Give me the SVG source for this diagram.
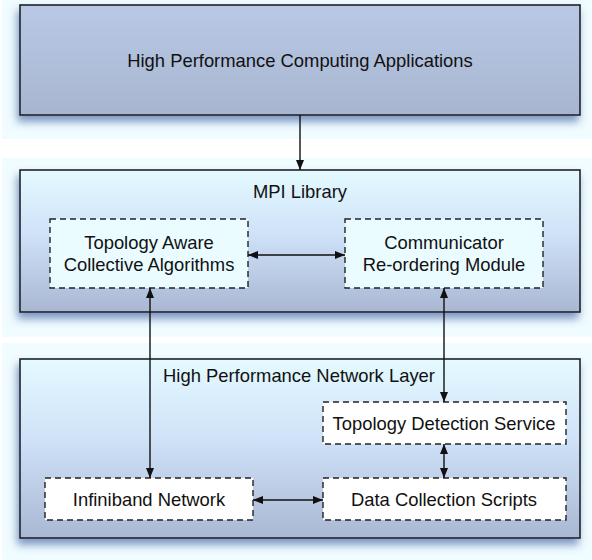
<svg xmlns="http://www.w3.org/2000/svg" width="592" height="560" viewBox="0 0 592 560">
<defs>
<linearGradient id="gTop" x1="0" y1="0" x2="0" y2="1"><stop offset="0" stop-color="#b9c9e5"/><stop offset="1" stop-color="#a7b5d0"/></linearGradient>
<linearGradient id="gLayer" x1="0" y1="0" x2="0" y2="1"><stop offset="0" stop-color="#e4faff"/><stop offset="0.45" stop-color="#cfe2f8"/><stop offset="1" stop-color="#a9b7d3"/></linearGradient>
<filter id="sh" x="-10%" y="-10%" width="125%" height="130%"><feGaussianBlur in="SourceAlpha" stdDeviation="4"/><feOffset dx="-2" dy="6" result="b"/><feFlood flood-color="#4a6aa8" flood-opacity="0.7"/><feComposite in2="b" operator="in"/><feMerge><feMergeNode/><feMergeNode in="SourceGraphic"/></feMerge></filter>
<marker id="ah" viewBox="0 0 10 10" refX="10" refY="5" markerWidth="10" markerHeight="10" markerUnits="userSpaceOnUse" orient="auto-start-reverse"><path d="M0,1 L10,5 L0,9 Z" fill="#111"/></marker>
</defs>
<style>
text{font-family:"Liberation Sans",Arial,Helvetica,sans-serif;fill:#111;text-anchor:middle;font-size:18.4px}
.box{stroke:#222;stroke-width:1.6}
.dash{stroke:#222;stroke-width:1.4;stroke-dasharray:6,4}
.conn line{stroke:#111;stroke-width:1.4}
</style>
<rect x="2" y="0" width="590" height="139" fill="#f0fcff"/>
<rect x="2" y="158" width="590" height="179" fill="#f0fcff"/>
<rect x="2" y="343" width="590" height="217" fill="#f0fcff"/>
<g id="hpc-apps">
<rect class="box" x="20" y="5" width="560" height="110" fill="url(#gTop)" filter="url(#sh)"/>
<text x="300" y="67">High Performance Computing Applications</text>
</g>
<g id="mpi-library">
<rect class="box" x="20" y="170" width="560" height="142" fill="url(#gLayer)" filter="url(#sh)"/>
<text x="300" y="198">MPI Library</text>
</g>
<g id="network-layer">
<rect class="box" x="20" y="359" width="560" height="179" fill="url(#gLayer)" filter="url(#sh)"/>
<text x="299" y="382">High Performance Network Layer</text>
</g>
<g id="topo-collective">
<rect class="dash" x="50" y="219" width="198" height="69" fill="#eafcff"/>
<text x="149" y="249">Topology Aware</text>
<text x="149" y="271">Collective Algorithms</text>
</g>
<g id="comm-reorder">
<rect class="dash" x="345" y="219" width="198" height="69" fill="#eafcff"/>
<text x="444" y="249">Communicator</text>
<text x="444" y="271">Re-ordering Module</text>
</g>
<g id="topo-detect">
<rect class="dash" x="323" y="402" width="243" height="42" fill="#fff"/>
<text x="444" y="430">Topology Detection Service</text>
</g>
<g id="infiniband">
<rect class="dash" x="45" y="478" width="208" height="42" fill="#fff"/>
<text x="149" y="506">Infiniband Network</text>
</g>
<g id="data-collect">
<rect class="dash" x="323" y="478" width="243" height="42" fill="#fff"/>
<text x="444" y="506">Data Collection Scripts</text>
</g>
<g class="conn" id="connectors">
<line x1="300" y1="115" x2="300" y2="170" marker-end="url(#ah)"/>
<line x1="248" y1="255" x2="345" y2="255" marker-start="url(#ah)" marker-end="url(#ah)"/>
<line x1="150" y1="288" x2="150" y2="478" marker-start="url(#ah)" marker-end="url(#ah)"/>
<line x1="444" y1="288" x2="444" y2="402" marker-start="url(#ah)" marker-end="url(#ah)"/>
<line x1="444" y1="444" x2="444" y2="478" marker-start="url(#ah)" marker-end="url(#ah)"/>
<line x1="253" y1="500" x2="323" y2="500" marker-start="url(#ah)" marker-end="url(#ah)"/>
</g>
</svg>
